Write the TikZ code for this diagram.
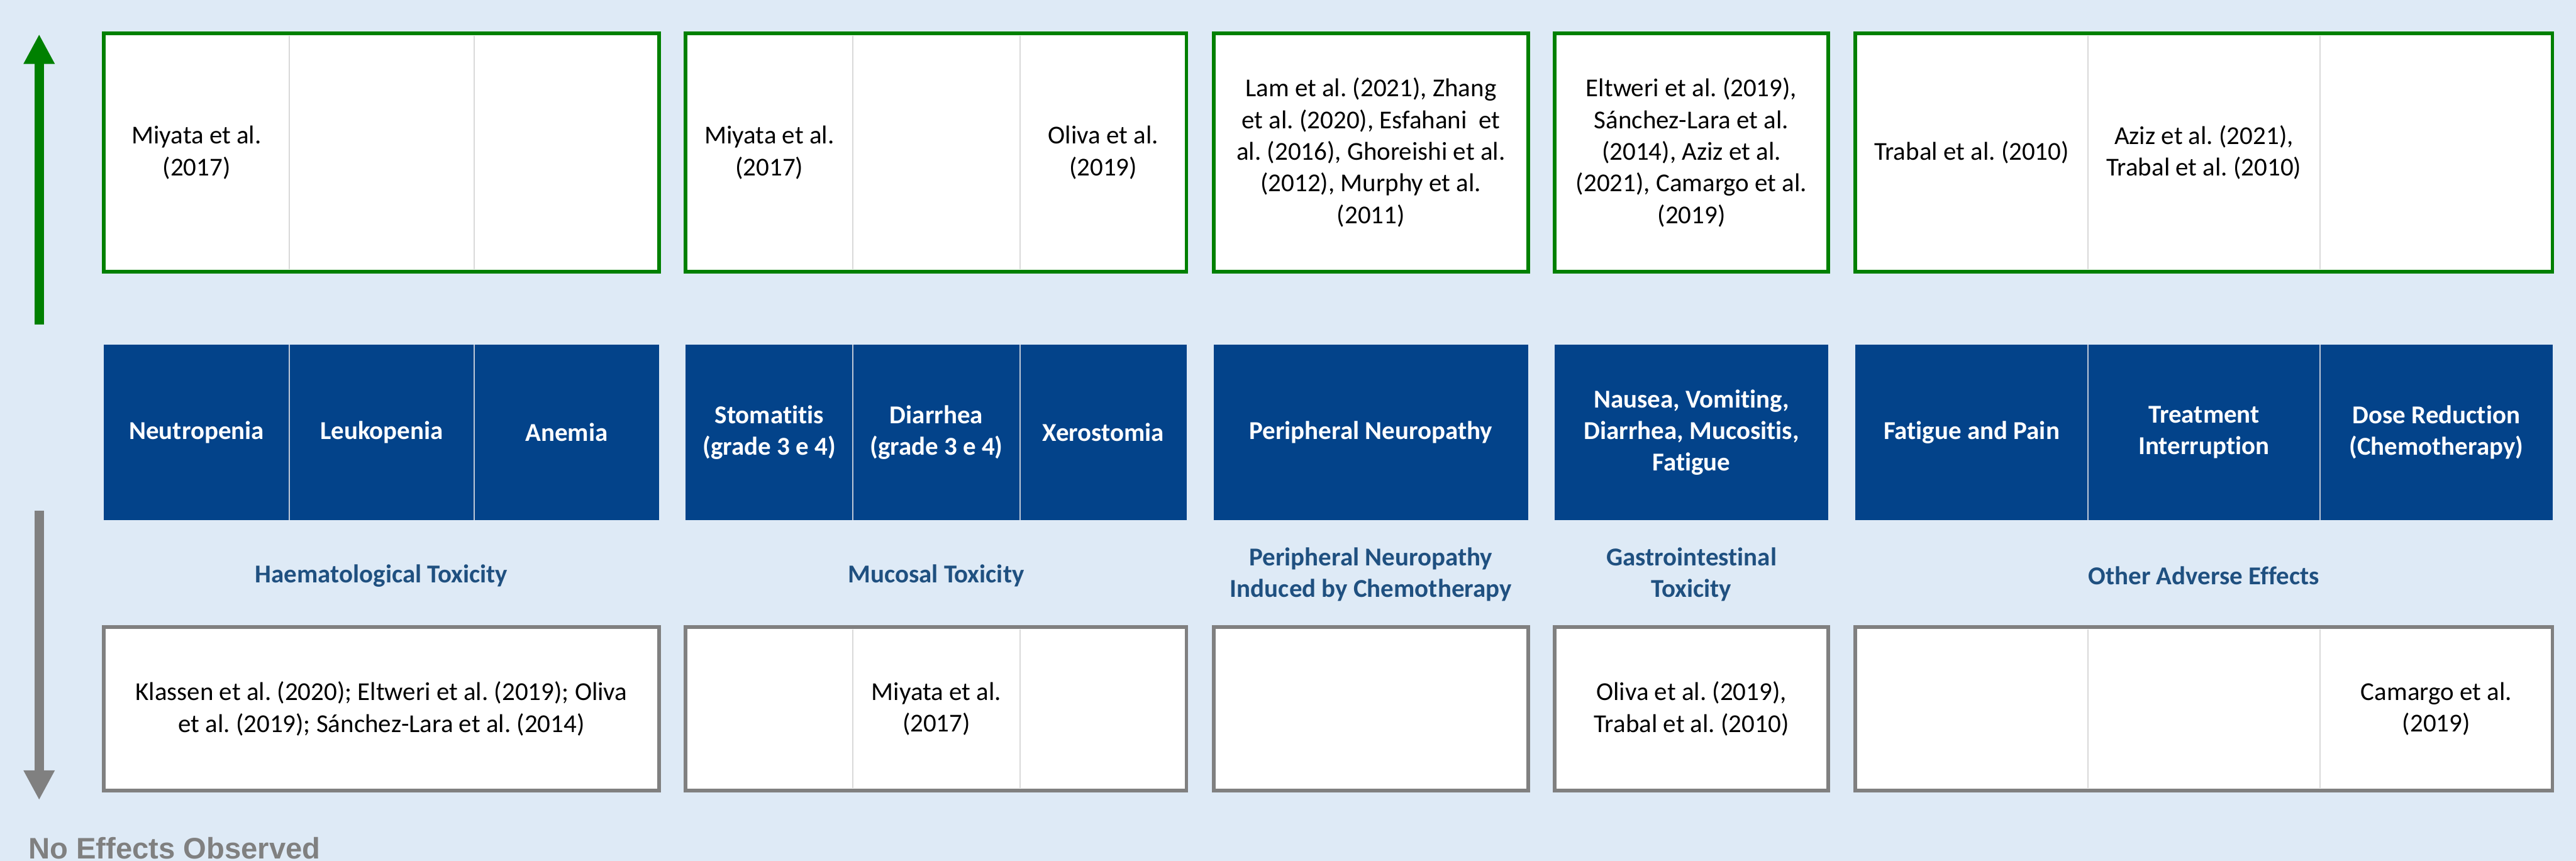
\documentclass[tikz,border=0pt]{standalone}
\usepackage{fontspec}
\setmainfont{Carlito}[Ligatures={NoCommon}]
\newfontfamily\arialfont{Liberation Sans}
\usetikzlibrary{arrows.meta}
\definecolor{bgcol}{RGB}{222,234,246}
\definecolor{cellblue}{RGB}{3,67,138}
\definecolor{catblue}{RGB}{31,80,128}
\definecolor{effgreen}{RGB}{0,128,0}
\definecolor{effgray}{RGB}{128,128,128}
\definecolor{divgray}{RGB}{217,217,217}
\definecolor{divblue}{RGB}{190,200,215}
\frenchspacing
\begin{document}
\begin{tikzpicture}[x=1cm,y=1cm,
  box/.style={rectangle, inner sep=0pt, line width=0.06cm, fill=white},
  greenbox/.style={box, draw=effgreen, minimum height=3.83cm},
  graybox/.style={box, draw=effgray, minimum height=2.64cm},
  bluebox/.style={rectangle, inner sep=0pt, fill=cellblue, minimum height=2.82cm},
  cite/.style={inner sep=0pt, align=center, font=\fontsize{11.8pt}{14.5pt}\selectfont, text=black},
  head/.style={inner sep=0pt, align=center, font=\fontsize{11.8pt}{14.5pt}\selectfont\bfseries, text=white},
  cat/.style={inner sep=0pt, align=center, font=\fontsize{11.8pt}{14.5pt}\selectfont\bfseries, text=catblue},
  wdiv/.style={draw=divgray, line width=0.02cm},
  bdiv/.style={draw=divblue, line width=0.02cm},
  bigarrow/.style={line width=0.155cm, -{Triangle[width=0.47cm,length=0.48cm]}},
]
\fill[bgcol] (0,0) rectangle (41.47,-13.86);
\useasboundingbox (0,0) rectangle (41.47,-13.86);

% ---------- top row (green) ----------
\node[greenbox, minimum width=8.94cm] (t1) at (6.14,-2.455) {};
\node[greenbox, minimum width=8.06cm] (t2) at (15.07,-2.455) {};
\node[greenbox, minimum width=5.06cm] (t3) at (22.07,-2.455) {};
\node[greenbox, minimum width=4.40cm] (t4) at (27.23,-2.455) {};
\node[greenbox, minimum width=11.22cm] (t5) at (35.48,-2.455) {};
\foreach \xx in {4.66,7.63,13.73,16.42,33.61,37.35}
  \draw[wdiv] (\xx,-0.58) -- (\xx,-4.33);

\node[cite] (t1a) at (3.165,-2.455) {Miyata et al.\\(2017)};
\node[cite] (t2a) at (12.385,-2.455) {Miyata et al.\\(2017)};
\node[cite] (t2c) at (17.76,-2.455) {Oliva et al.\\(2019)};
\node[cite] (t3a) at (22.07,-2.455) {Lam et al. (2021), Zhang\\et al. (2020), Esfahani\ \ et\\al. (2016), Ghoreishi et al.\\(2012), Murphy et al.\\(2011)};
\node[cite] (t4a) at (27.23,-2.455) {Eltweri et al. (2019),\\Sánchez-Lara et al.\\(2014), Aziz et al.\\(2021), Camargo et al.\\(2019)};
\node[cite] (t5a) at (31.74,-2.455) {Trabal et al. (2010)};
\node[cite] (t5b) at (35.48,-2.455) {Aziz et al. (2021),\\Trabal et al. (2010)};

% ---------- middle row (blue) ----------
\node[bluebox, minimum width=8.94cm] (m1) at (6.14,-6.96) {};
\node[bluebox, minimum width=8.06cm] (m2) at (15.07,-6.96) {};
\node[bluebox, minimum width=5.06cm] (m3) at (22.07,-6.96) {};
\node[bluebox, minimum width=4.40cm] (m4) at (27.23,-6.96) {};
\node[bluebox, minimum width=11.22cm] (m5) at (35.48,-6.96) {};
\foreach \xx in {4.66,7.63,13.73,16.42,33.61,37.35}
  \draw[bdiv] (\xx,-5.55) -- (\xx,-8.37);

\node[head] (m1a) at (3.165,-6.96) {Neutropenia};
\node[head] (m1b) at (6.145,-6.96) {Leukopenia};
\node[head] (m1c) at (9.12,-6.96) {Anemia};
\node[head] (m2a) at (12.385,-6.96) {Stomatitis\\(grade 3 e 4)};
\node[head] (m2b) at (15.075,-6.96) {Diarrhea\\(grade 3 e 4)};
\node[head] (m2c) at (17.76,-6.96) {Xerostomia};
\node[head] (m3a) at (22.07,-6.96) {Peripheral Neuropathy};
\node[head] (m4a) at (27.23,-6.96) {Nausea, Vomiting,\\Diarrhea, Mucositis,\\Fatigue};
\node[head] (m5a) at (31.74,-6.96) {Fatigue and Pain};
\node[head] (m5b) at (35.48,-6.96) {Treatment\\Interruption};
\node[head] (m5c) at (39.22,-6.96) {Dose Reduction\\(Chemotherapy)};

% ---------- category labels ----------
\node[cat] (c1) at (6.14,-9.27) {Haematological Toxicity};
\node[cat] (c2) at (15.07,-9.27) {Mucosal Toxicity};
\node[cat] (c3) at (22.07,-9.25) {Peripheral Neuropathy\\Induced by Chemotherapy};
\node[cat] (c4) at (27.23,-9.25) {Gastrointestinal\\Toxicity};
\node[cat] (c5) at (35.48,-9.27) {Other Adverse Effects};

% ---------- bottom row (gray) ----------
\node[graybox, minimum width=8.94cm] (b1) at (6.14,-11.41) {};
\node[graybox, minimum width=8.06cm] (b2) at (15.07,-11.41) {};
\node[graybox, minimum width=5.06cm] (b3) at (22.07,-11.41) {};
\node[graybox, minimum width=4.40cm] (b4) at (27.23,-11.41) {};
\node[graybox, minimum width=11.22cm] (b5) at (35.48,-11.41) {};
\foreach \xx in {13.73,16.42,33.61,37.35}
  \draw[wdiv] (\xx,-10.13) -- (\xx,-12.69);

\node[cite] (b1a) at (6.14,-11.41) {Klassen et al. (2020); Eltweri et al. (2019); Oliva\\et al. (2019); Sánchez-Lara et al. (2014)};
\node[cite] (b2b) at (15.075,-11.41) {Miyata et al.\\(2017)};
\node[cite] (b4a) at (27.23,-11.41) {Oliva et al. (2019),\\Trabal et al. (2010)};
\node[cite] (b5c) at (39.22,-11.41) {Camargo et al.\\(2019)};

% ---------- side arrows ----------
\coordinate (upS) at (0.63,-5.22);
\coordinate (upE) at (0.63,-0.55);
\coordinate (dnS) at (0.63,-8.22);
\coordinate (dnE) at (0.63,-12.88);
\draw[bigarrow, draw=effgreen, fill=effgreen] (upS) -- (upE);
\draw[bigarrow, draw=effgray, fill=effgray] (dnS) -- (dnE);

\node[anchor=base west, inner sep=0pt, text=effgray, font=\arialfont\bfseries\fontsize{13.6pt}{16pt}\selectfont] (noeff) at (0.45,-13.82) {No Effects Observed};
\end{tikzpicture}
\end{document}
